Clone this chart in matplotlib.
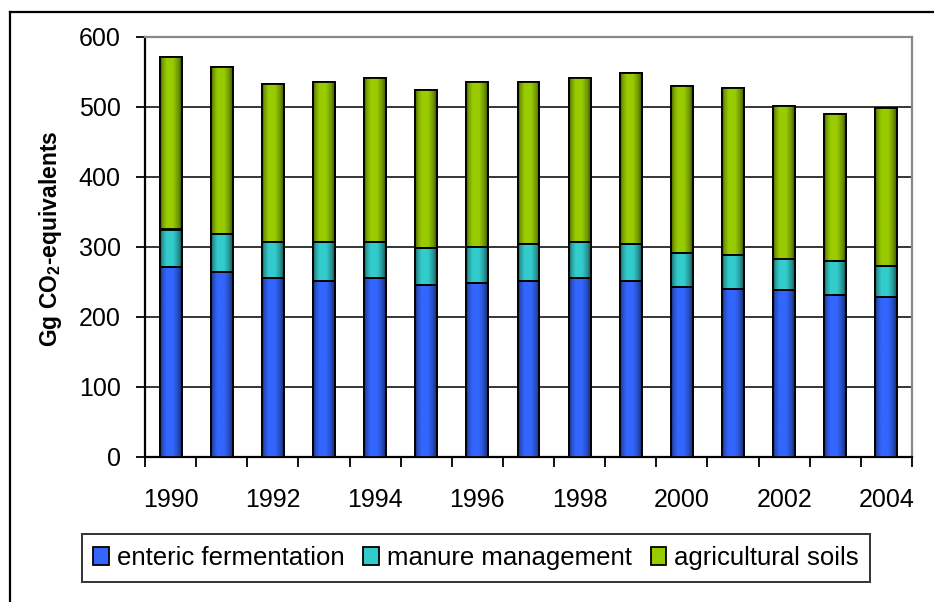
import numpy as np
import matplotlib
matplotlib.use("Agg")
import matplotlib.pyplot as plt
from matplotlib.patches import Rectangle
from matplotlib.lines import Line2D
from matplotlib.colors import to_rgb

plt.rcParams['font.family'] = ['Liberation Sans', 'DejaVu Sans']
plt.rcParams['mathtext.fontset'] = 'custom'
plt.rcParams['mathtext.rm'] = 'Liberation Sans'
plt.rcParams['mathtext.bf'] = 'Liberation Sans:bold'

# data (Gg CO2-equivalents)
years = list(range(1990, 2005))
enteric = [271, 264, 256, 252, 256, 246, 249, 252, 256, 252, 243, 240, 238, 231, 229]
manure = [54, 55, 51, 55, 51, 52, 51, 52, 51, 52, 49, 49, 45, 49, 44]
soils = [247, 238, 226, 229, 234, 226, 236, 232, 234, 244, 238, 238, 219, 210, 226]

series_names = ["enteric fermentation", "manure management", "agricultural soils"]
base_colors = ["#3366ff", "#33cccc", "#99cc00"]


def gradient_row(color, n=64):
    # excel-like horizontal shading: dark edges, bright left-centre
    r, g, b = to_rgb(color)
    t = np.linspace(0, 1, n)
    f = np.interp(t, [0, 0.1, 0.3, 0.6, 0.85, 1.0], [0.4, 0.75, 1.0, 1.0, 0.72, 0.4])
    row = np.stack([r * f, g * f, b * f], axis=1)
    return row[np.newaxis, :, :]


fig = plt.figure(figsize=(9.34, 6.02), dpi=100)
ax = fig.add_axes([145 / 934, 145 / 602, 767 / 934, 420 / 602])

x = np.arange(len(years))
width = 0.43
bottom = np.zeros(len(years))
for vals, col in zip([enteric, manure, soils], base_colors):
    bars = ax.bar(x, vals, width, bottom=bottom, color=col, edgecolor="black",
                  linewidth=1.3, zorder=3)
    img = gradient_row(col)
    for b in bars:
        x0, y0 = b.get_x(), b.get_y()
        im = ax.imshow(img, extent=[x0, x0 + b.get_width(), y0, y0 + b.get_height()],
                       aspect="auto", zorder=3.5, interpolation="bilinear")
        im.set_clip_path(b)
        edge = Rectangle((x0, y0), b.get_width(), b.get_height(), fill=False,
                         edgecolor="black", linewidth=1.3, zorder=4)
        ax.add_patch(edge)
    bottom += np.array(vals)

ax.set_xlim(-0.5, len(years) - 0.5)
ax.set_ylim(0, 600)
ax.set_yticks(range(0, 601, 100))
ax.yaxis.grid(True, color="black", linewidth=1.1, zorder=1)
ax.set_axisbelow(True)

ax.set_xticks(x[::2])
ax.set_xticklabels([str(y) for y in years[::2]])
ax.set_xticks(np.arange(-0.5, len(years), 1), minor=True)
ax.tick_params(axis="x", which="major", length=0, pad=22, labelsize=18)
ax.tick_params(axis="x", which="minor", length=7, width=1.3, direction="out")
ax.tick_params(axis="y", length=6.5, width=1.3, pad=11, labelsize=18)

for s in ["left", "bottom"]:
    ax.spines[s].set_color("black")
    ax.spines[s].set_linewidth(1.6)
for s in ["top", "right"]:
    ax.spines[s].set_color("#888888")
    ax.spines[s].set_linewidth(1.6)

ax.set_ylabel(r"Gg CO$_\mathbf{2}$-equivalents", fontsize=16.5, fontweight="bold")
ax.yaxis.set_label_coords(-0.106, 0.52)

handles = [Rectangle((0, 0), 1, 1, facecolor=c, edgecolor="black", linewidth=1.3)
           for c in base_colors]
leg = fig.legend(handles, series_names, loc="center", ncol=3,
                 bbox_to_anchor=(476 / 934, 44 / 602), fontsize=18.5,
                 frameon=True, fancybox=False, shadow=False,
                 handlelength=0.6, handleheight=0.65, handletextpad=0.3,
                 columnspacing=0.75, borderpad=0.45, borderaxespad=0)
leg.get_frame().set_edgecolor("black")
leg.get_frame().set_linewidth(1.4)

# outer chart-area border
fig.add_artist(Line2D([9.5 / 934, 1.0], [1 - 12 / 602, 1 - 12 / 602],
                      color="black", linewidth=1.6, transform=fig.transFigure))
fig.add_artist(Line2D([9.5 / 934, 9.5 / 934], [0, 1 - 12 / 602],
                      color="black", linewidth=1.6, transform=fig.transFigure))

fig.savefig("out.png", dpi=100)
